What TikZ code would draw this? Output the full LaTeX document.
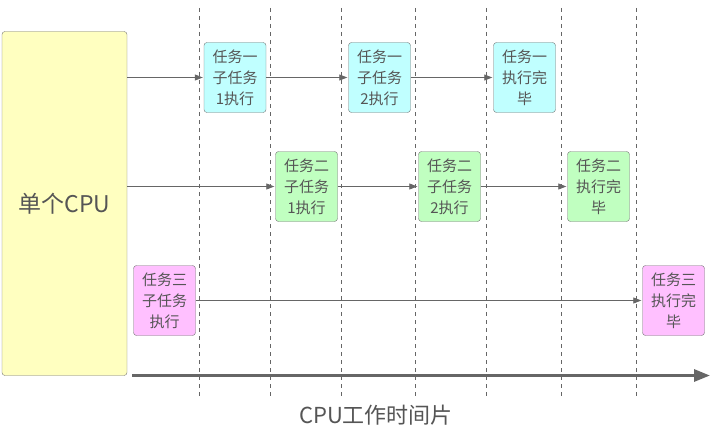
\documentclass[tikz,border=0pt]{standalone}
\usepackage{fontspec}
\setmainfont{Noto Sans CJK SC}
\usetikzlibrary{arrows.meta}
\definecolor{linegray}{HTML}{666666}
\definecolor{textgray}{HTML}{555555}
\definecolor{cpuyellow}{HTML}{FFFFC0}
\definecolor{taskblue}{HTML}{C0FFFF}
\definecolor{taskgreen}{HTML}{C0FFC0}
\definecolor{taskpink}{HTML}{FFC0FF}
\tikzset{
	task/.style={draw=linegray!90, rounded corners=3pt, minimum width=62pt, minimum height=70pt,
		align=center, inner sep=0pt, text=textgray, font=\fontsize{15}{21}\selectfont},
	flow/.style={draw=linegray, line width=0.8pt, -{Triangle[length=8pt,width=6pt]}, shorten >=1pt},
	slice/.style={draw=linegray, line width=0.7pt, dash pattern=on 4pt off 4pt}
}
\begin{document}
\begin{tikzpicture}[x=1pt, y=-1pt]
		\useasboundingbox (0, 0) rectangle (720, 436);

		\foreach \i in {199.5, 270.5, 341.5, 415.5, 486.5, 561.5, 636.5}{
				\draw[slice] (\i, 8) -- (\i, 396);
			}

		\node[task, fill=cpuyellow, minimum width=125pt, minimum height=344pt, font=\fontsize{23}{26}\selectfont] (cpu) at (64.5, 203.5) {单个CPU};

		\node[task, fill=taskblue] (t1a) at (235, 77.5) {任务一\\子任务\\1执行};
		\node[task, fill=taskblue] (t1b) at (379.5, 77.5) {任务一\\子任务\\2执行};
		\node[task, fill=taskblue] (t1c) at (524.5, 77.5) {任务一\\执行完\\毕};

		\node[task, fill=taskgreen] (t2a) at (306.5, 186.5) {任务二\\子任务\\1执行};
		\node[task, fill=taskgreen] (t2b) at (449.5, 186.5) {任务二\\子任务\\2执行};
		\node[task, fill=taskgreen] (t2c) at (598.5, 186.5) {任务二\\执行完\\毕};

		\node[task, fill=taskpink] (t3a) at (164.5, 300.5) {任务三\\子任务\\执行};
		\node[task, fill=taskpink] (t3b) at (673.5, 300.5) {任务三\\执行完\\毕};

		\draw[flow] (cpu.east |- t1a) -- (t1a);
		\draw[flow] (t1a) -- (t1b);
		\draw[flow] (t1b) -- (t1c);
		\draw[flow] (cpu.east |- t2a) -- (t2a);
		\draw[flow] (t2a) -- (t2b);
		\draw[flow] (t2b) -- (t2c);
		\draw[flow] (t3a) -- (t3b);

		\coordinate (axs) at (132, 375.5);
		\coordinate (axe) at (710, 375.5);
		\draw[linegray, line width=3pt, -{Triangle[length=16pt,width=12pt]}] (axs) -- (axe);

		\node[text=textgray, font=\fontsize{22}{26}\selectfont] (axlabel) at (376, 415) {CPU工作时间片};
	\end{tikzpicture}
\end{document}
